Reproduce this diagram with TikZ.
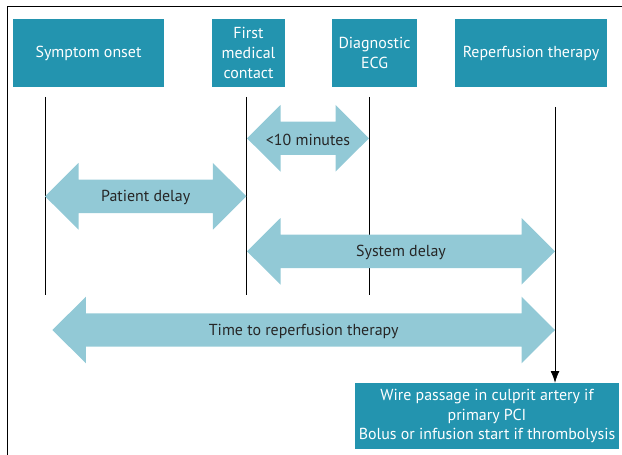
\documentclass[tikz,border=0pt]{standalone}
\usepackage{fontspec}
\setmainfont{PT Sans}
\usetikzlibrary{calc}
\usetikzlibrary{positioning}
\usetikzlibrary{arrows.meta}
\definecolor{boxTeal}{HTML}{2394AF}
\definecolor{arrowBlue}{HTML}{92C9D6}
\tikzset{
  stageNode/.style={%
    fill=boxTeal, text=white, align=center, inner sep=0pt,
    font=\fontsize{13.6}{17}\selectfont,
  },
  delayArrow/.style={fill=arrowBlue},
  delayText/.style={font=\fontsize{13.6}{17}\selectfont, text=black!85},
  timeLine/.style={line width=0.6pt},
}

\begin{document}
\begin{tikzpicture}[x=0.03cm, y=-0.03cm]
  \useasboundingbox (0,0) rectangle (622,455);
  % frame
  \draw[line width=0.8pt] (7,460) -- (7,6) -- (630,6);

  % stages
  \node[stageNode, minimum width=4.53cm, minimum height=2.04cm]
    (onset) at (88.5,53) {\raisebox{-2pt}{Symptom onset}};
  \node[stageNode, minimum width=2.19cm, minimum height=2.04cm]
    (fmc) at (248.5,53) {First\\medical\\contact};
  \node[stageNode, minimum width=2.55cm, minimum height=2.04cm]
    (ecg) at (374.5,53) {Diagnostic\\ECG};
  \node[stageNode, minimum width=4.56cm, minimum height=2.04cm]
    (reperf) at (531,53) {\raisebox{-2pt}{Reperfusion therapy}};
  \node[stageNode, minimum width=7.92cm, minimum height=1.98cm,
        font=\fontsize{13.6}{16.5}\selectfont]
    (wire) at (487,416) {Wire passage in culprit artery if\\primary PCI\\Bolus or infusion start if thrombolysis};

  % time lines
  \coordinate (onsetTop) at (45,97);
  \coordinate (onsetEnd) at (45,295);
  \coordinate (fmcTop) at (246.5,97);
  \coordinate (fmcEnd) at (246.5,295);
  \coordinate (ecgTop) at (369,97);
  \coordinate (ecgEnd) at (369,295);
  \coordinate (reperfTop) at (555,107);
  \draw[timeLine] (onsetTop) -- (onsetEnd);
  \draw[timeLine] (fmcTop) -- (fmcEnd);
  \draw[timeLine] (ecgTop) -- (ecgEnd);
  \draw[timeLine, -{Latex[length=10pt, width=7.5pt]}] (reperfTop) -- (reperfTop |- wire.north);

  % delays
  \foreach \xa/\xb/\yc/\name/\lbl in {%
      247/369/138.3/tenMin/{<10 minutes},
      45/246.4/196.3/patient/{Patient delay},
      247/555/251.3/system/{System delay},
      52.4/555/330/total/{Time to reperfusion therapy}} {
    \fill[delayArrow]
      (\xa,\yc) -- (\xa+33.5,\yc-33.3) -- (\xa+33.5,\yc-16.7)
      -- (\xb-33.5,\yc-16.7) -- (\xb-33.5,\yc-33.3) -- (\xb,\yc)
      -- (\xb-33.5,\yc+33.3) -- (\xb-33.5,\yc+16.7)
      -- (\xa+33.5,\yc+16.7) -- (\xa+33.5,\yc+33.3) -- cycle;
    \node[delayText] (\name) at ({(\xa+\xb)/2},\yc+1.5) {\lbl};
  }
\end{tikzpicture}
\end{document}
